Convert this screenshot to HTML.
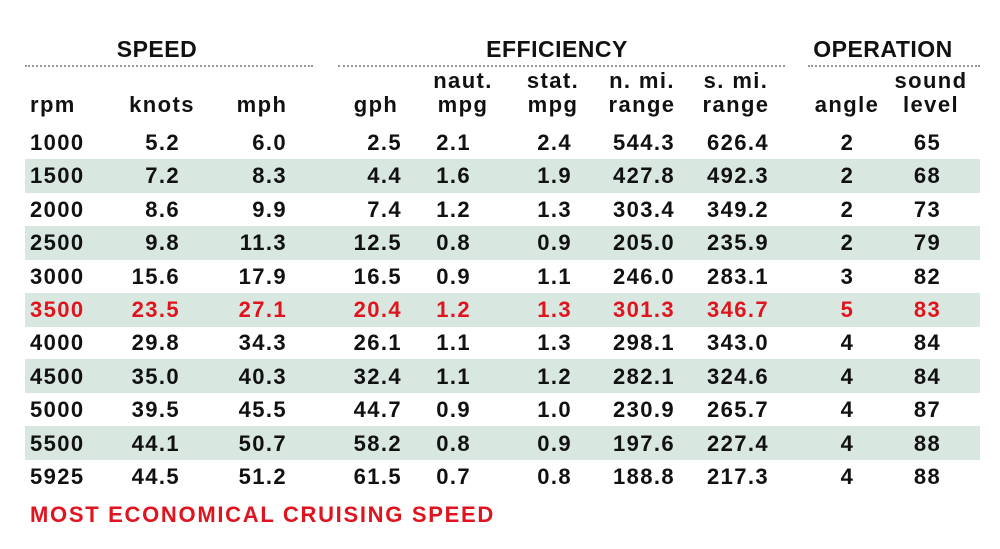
<!DOCTYPE html>
<html><head><meta charset="utf-8"><style>
body{margin:0;width:1000px;height:549px;background:#fff;position:relative;overflow:hidden;font-family:"Liberation Sans",sans-serif;font-weight:bold;color:#111}
.s{position:absolute;left:25px;width:955px;height:34px;background:#d9e7e1}
.c{position:absolute;font-size:22px;letter-spacing:1.4px;line-height:24px;white-space:nowrap}
.r{text-align:right}.m{text-align:center}
.h{position:absolute;font-size:23px;letter-spacing:0.5px;top:36px;text-align:center}
.l{position:absolute;top:65px;height:0;border-top:2px dotted #999}
.red{color:#e0141e}
</style></head><body>
<div class="h" style="left:57px;width:200px">SPEED</div>
<div class="h" style="left:407px;width:300px">EFFICIENCY</div>
<div class="h" style="left:783px;width:200px">OPERATION</div>
<div class="l" style="left:25px;width:288px"></div>
<div class="l" style="left:338px;width:447px"></div>
<div class="l" style="left:808px;width:172px"></div>
<div id="t"></div>
<script>
var rows=[["1000","5.2","6.0","2.5","2.1","2.4","544.3","626.4","2","65"],["1500","7.2","8.3","4.4","1.6","1.9","427.8","492.3","2","68"],["2000","8.6","9.9","7.4","1.2","1.3","303.4","349.2","2","73"],["2500","9.8","11.3","12.5","0.8","0.9","205.0","235.9","2","79"],["3000","15.6","17.9","16.5","0.9","1.1","246.0","283.1","3","82"],["3500","23.5","27.1","20.4","1.2","1.3","301.3","346.7","5","83"],["4000","29.8","34.3","26.1","1.1","1.3","298.1","343.0","4","84"],["4500","35.0","40.3","32.4","1.1","1.2","282.1","324.6","4","84"],["5000","39.5","45.5","44.7","0.9","1.0","230.9","265.7","4","87"],["5500","44.1","50.7","58.2","0.8","0.9","197.6","227.4","4","88"],["5925","44.5","51.2","61.5","0.7","0.8","188.8","217.3","4","88"]];
var cols=[[30,120,""],[60,180,"r"],[160,287,"r"],[280,402,"r"],[380,471,"r"],[480,572,"r"],[580,675,"r"],[680,769,"r"],[807,888,"m"],[887,968,"m"]];
var h="";
var hd=[["rpm","",30,"l"],["knots","",162,"m"],["mph","",262,"m"],["gph","",376,"m"],["mpg","naut.",463,"m"],["mpg","stat.",553,"m"],["range","n. mi.",642,"m"],["range","s. mi.",736,"m"],["angle","",847,"m"],["level","sound",931,"m"]];
hd.forEach(function(x){var p=x[3]=="l"?'left:'+x[2]+'px':'left:'+(x[2]-60)+'px;width:120px;text-align:center';
h+='<div class="c" style="top:93px;'+p+'">'+x[0]+'</div>';
if(x[1])h+='<div class="c" style="top:69px;'+p+'">'+x[1]+'</div>';});
rows.forEach(function(r,i){var top=126+33.4*i;
if(i%2==1)h+='<div class="s" style="top:'+(top-0.5)+'px"></div>';
r.forEach(function(v,j){var c=cols[j];h+='<div class="c '+c[2]+(i==5?' red':'')+'" style="top:'+(top+5)+'px;left:'+c[0]+'px;width:'+(c[1]-c[0])+'px">'+v+'</div>';});});
h+='<div class="c red" style="top:503px;left:30px;font-size:22px;letter-spacing:1.7px">MOST ECONOMICAL CRUISING SPEED</div>';
document.getElementById("t").innerHTML=h;
</script>
</body></html>
